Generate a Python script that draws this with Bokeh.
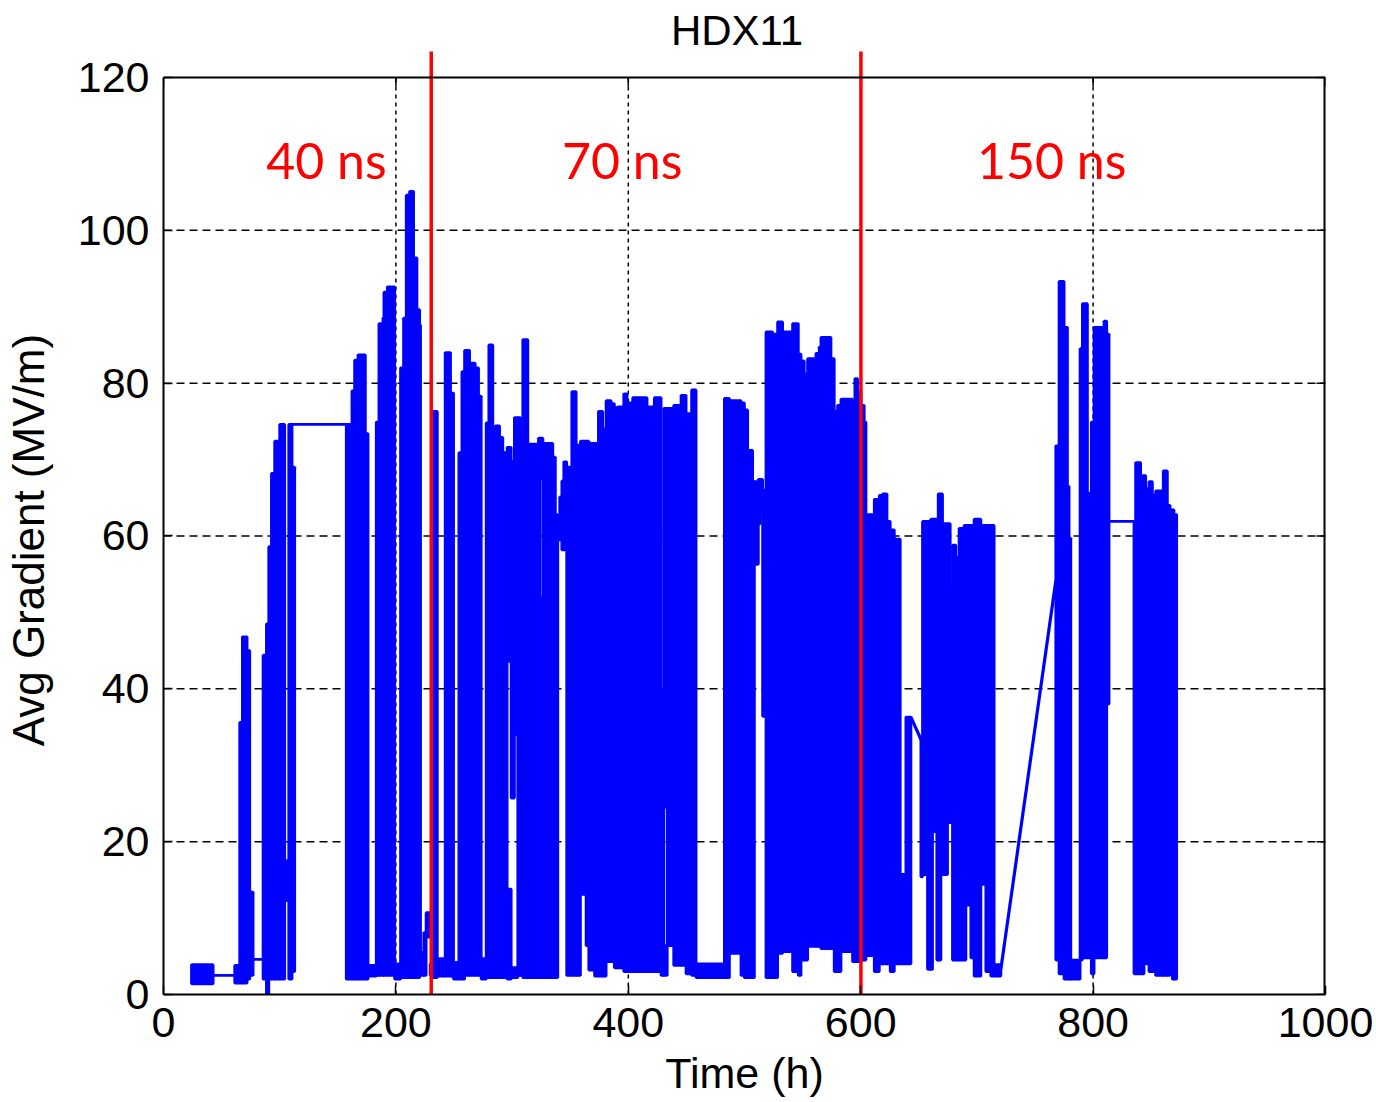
import math
from bokeh.plotting import figure
from bokeh.models import ColumnDataSource, FixedTicker, Label, Span
from bokeh.core.properties import value
from bokeh.embed import file_html
from bokeh.resources import INLINE

# ---- data: (t_start h, t_end h, low MV/m, high MV/m) ----
bursts_40ns = [
    (24.1, 42.7, 1.4, 3.9), (42.7, 61.3, 2.5, 2.5), (61.3, 65.6, 1.5, 3.8),
    (65.6, 67.9, 1.5, 35.6), (67.9, 71.9, 1.5, 46.8), (71.9, 74.2, 2.0, 45.0),
    (74.2, 77.1, 2.5, 13.4), (77.1, 85.7, 4.6, 4.6), (85.7, 88.6, 2.0, 44.4),
    (88.6, 90.6, 0.0, 48.5), (90.6, 92.9, 2.0, 58.6), (92.9, 95.7, 2.0, 68.2),
    (95.7, 100.0, 2.0, 72.4), (100.0, 104.3, 2.0, 74.6), (104.3, 107.8, 12.3, 17.5),
    (107.8, 110.6, 2.0, 74.6), (110.6, 112.9, 3.0, 69.0), (110.6, 157.3, 74.6, 74.6),
    (157.3, 162.2, 2.0, 74.6), (162.2, 164.5, 2.0, 79.0), (164.5, 167.4, 2.0, 83.0),
    (167.4, 173.7, 2.0, 83.7), (173.7, 176.0, 2.0, 73.4), (176.0, 183.1, 2.4, 3.8),
    (183.1, 185.4, 2.5, 74.9), (185.4, 188.9, 2.5, 87.8), (188.9, 189.7, 2.5, 88.5),
    (189.7, 192.6, 2.5, 91.9), (192.6, 198.9, 2.5, 92.6), (198.9, 204.0, 2.0, 4.0),
    (204.0, 206.6, 2.2, 82.0), (206.6, 208.9, 2.2, 88.5), (208.9, 211.8, 2.2, 104.6),
    (211.8, 215.2, 2.2, 105.1), (215.2, 218.1, 2.2, 96.4), (218.1, 220.4, 2.2, 89.6),
    (220.4, 221.2, 3.0, 87.6), (221.2, 224.0, 2.5, 5.5), (224.0, 226.0, 2.5, 8.1),
    (226.0, 229.5, 7.5, 10.7),
]

bursts_70ns = [
    (229.5, 231.8, 2.5, 4.0), (231.8, 235.6, 2.2, 76.3), (235.6, 242.4, 2.4, 4.7),
    (242.4, 247.0, 2.4, 84.0), (247.0, 249.6, 2.4, 78.7), (249.6, 254.2, 2.0, 4.2),
    (254.2, 256.8, 2.0, 70.9), (256.8, 259.1, 2.0, 81.5), (259.1, 263.4, 2.5, 84.3),
    (263.4, 268.2, 2.5, 82.6), (268.2, 271.1, 2.5, 82.0), (271.1, 273.4, 2.5, 78.3),
    (273.4, 277.7, 2.0, 4.7), (277.7, 280.0, 2.2, 74.8), (280.0, 283.4, 2.2, 85.0),
    (283.4, 285.4, 2.2, 73.5), (285.4, 289.2, 2.2, 74.4), (289.2, 292.0, 2.2, 72.9),
    (292.0, 295.7, 2.2, 70.9), (295.7, 299.2, 43.6, 71.6), (295.7, 299.2, 2.0, 13.8),
    (299.2, 302.0, 25.7, 69.8), (299.2, 304.9, 2.2, 3.5), (302.0, 304.9, 34.0, 75.5),
    (304.9, 307.2, 2.5, 75.5), (307.2, 309.2, 2.5, 73.4), (309.2, 313.5, 2.2, 85.7),
    (313.5, 322.7, 2.2, 72.0), (322.7, 324.0, 2.2, 72.8), (324.0, 326.5, 2.2, 52.0),
    (324.0, 326.5, 67.5, 72.8), (326.5, 335.0, 2.2, 72.1), (335.0, 337.2, 2.2, 70.3),
    (337.2, 339.3, 2.2, 62.8), (339.3, 341.0, 59.5, 61.0), (341.0, 342.8, 59.5, 65.1),
    (342.8, 344.5, 58.2, 67.2), (344.5, 347.0, 58.2, 69.7), (347.0, 351.4, 2.5, 69.0),
    (351.4, 355.1, 2.5, 78.9), (355.1, 358.8, 2.5, 71.9), (358.8, 363.7, 13.1, 72.4),
    (363.7, 366.0, 6.4, 72.4), (366.0, 371.0, 3.2, 72.1), (371.0, 374.3, 2.4, 72.1),
    (374.3, 378.0, 2.4, 76.3), (378.0, 379.5, 2.4, 31.5), (379.5, 380.9, 2.4, 74.0),
    (380.9, 385.2, 4.3, 77.7), (385.2, 388.0, 4.3, 77.3), (388.0, 390.9, 3.5, 76.8),
    (390.9, 396.1, 3.5, 76.9), (396.1, 398.9, 3.0, 78.6), (398.9, 403.8, 3.0, 77.4),
    (403.8, 416.1, 3.0, 78.1), (416.1, 422.4, 3.0, 76.9), (422.4, 428.2, 3.0, 78.1),
    (428.2, 430.5, 2.5, 39.8), (430.5, 433.5, 24.5, 76.7), (430.5, 433.5, 2.5, 6.4),
    (433.5, 439.1, 6.4, 76.7), (439.1, 445.4, 3.8, 77.1), (445.4, 449.7, 3.8, 78.4),
    (449.7, 454.5, 2.7, 76.0), (454.5, 458.3, 2.5, 79.1), (458.3, 482.7, 2.2, 4.0),
    (482.7, 487.0, 2.2, 78.0), (487.0, 497.0, 5.4, 77.7), (497.0, 499.9, 2.5, 77.4),
    (499.9, 502.7, 2.2, 76.5), (502.7, 507.0, 2.2, 71.2), (507.0, 508.5, 2.2, 67.1),
    (508.5, 511.9, 56.3, 67.1), (511.9, 513.6, 61.6, 67.4), (513.6, 515.6, 63.3, 67.4),
    (515.6, 518.5, 36.4, 66.0), (518.5, 524.2, 2.2, 86.7), (524.2, 528.5, 2.2, 86.4),
    (528.5, 532.8, 5.4, 88.0), (532.8, 541.4, 5.6, 86.7), (541.4, 546.3, 3.0, 87.8),
    (546.3, 548.6, 2.5, 83.8), (548.6, 551.4, 4.5, 82.9), (551.4, 554.3, 4.5, 81.2),
    (554.3, 561.5, 6.3, 83.2), (561.5, 564.3, 6.3, 83.9), (564.3, 565.8, 6.3, 84.7),
    (565.8, 574.4, 6.0, 86.0), (574.4, 577.2, 6.0, 83.2), (577.2, 580.1, 3.0, 76.3),
    (580.1, 583.0, 3.0, 77.1), (583.0, 593.0, 5.6, 77.9), (593.0, 595.0, 4.3, 77.4),
    (595.0, 597.3, 4.3, 80.6), (597.3, 600.2, 4.3, 79.0),
]

bursts_150ns = [
    (600.2, 603.0, 4.5, 77.1), (603.0, 604.5, 4.5, 74.9), (604.5, 611.7, 5.1, 62.8),
    (611.7, 616.0, 3.0, 64.8), (616.0, 618.8, 4.0, 65.3), (618.8, 622.6, 4.0, 65.5),
    (622.6, 625.4, 4.0, 61.9), (625.4, 628.9, 3.0, 60.8), (628.9, 634.0, 4.0, 59.6),
    (634.0, 638.9, 4.0, 15.7), (638.9, 643.2, 4.0, 36.3), (651.8, 653.2, 15.4, 33.4),
    (653.2, 657.5, 15.7, 61.9), (657.5, 660.4, 3.3, 61.9), (660.4, 661.8, 3.3, 62.2),
    (661.8, 665.5, 21.3, 62.2), (665.5, 666.7, 4.5, 62.2), (666.7, 669.0, 4.5, 65.5),
    (669.0, 670.4, 15.7, 65.5), (670.4, 674.7, 15.7, 61.6), (674.7, 677.0, 22.5, 61.6),
    (677.0, 679.0, 22.5, 53.2), (679.0, 681.9, 4.5, 58.8), (681.9, 684.7, 4.5, 57.2),
    (684.7, 689.0, 4.5, 61.0), (689.0, 690.5, 4.5, 61.4), (690.5, 694.8, 11.7, 61.4),
    (694.8, 697.6, 4.8, 61.4), (697.6, 703.4, 2.4, 62.2), (703.4, 707.7, 14.4, 61.4),
    (707.7, 712.0, 3.0, 61.4), (712.0, 714.8, 2.4, 61.4), (714.8, 720.6, 2.4, 3.9),
    (767.9, 770.7, 4.5, 71.8), (770.7, 775.0, 2.7, 93.3), (775.0, 777.9, 2.0, 87.3),
    (777.9, 779.3, 2.0, 66.5), (779.3, 780.8, 2.0, 59.7), (780.8, 788.8, 2.0, 4.5),
    (788.8, 790.8, 4.5, 84.5), (790.8, 795.1, 4.8, 90.4), (795.1, 798.5, 4.8, 65.6),
    (798.5, 800.8, 2.7, 74.9), (800.8, 809.4, 4.8, 87.3), (809.4, 811.7, 4.8, 88.1),
    (811.7, 813.7, 38.0, 86.4), (813.7, 835.2, 61.9, 61.9), (835.2, 836.6, 2.7, 61.9),
    (836.6, 840.9, 2.7, 69.6), (840.9, 843.8, 2.7, 67.9), (843.8, 845.2, 18.5, 67.9),
    (845.2, 848.1, 4.0, 66.2), (848.1, 851.0, 3.0, 67.1), (851.0, 853.8, 3.0, 65.3),
    (853.8, 860.4, 2.5, 65.9), (860.4, 863.9, 2.5, 68.5), (863.9, 866.2, 2.5, 64.0),
    (866.2, 868.2, 28.1, 63.4), (868.2, 869.6, 2.0, 63.4), (869.6, 871.9, 2.0, 62.8),
]

# sloped pieces of the trace: (t0, g0, t1, g1)
ramps = [(643.2, 36.3, 651.8, 33.4), (720.6, 3.3, 767.9, 54.1)]

pulse_boundaries_h = [230.4, 600.2]
pulse_labels = ["40 ns", "70 ns", "150 ns"]
pulse_label_x = [140.2, 394.7, 764.4]

x_ticks = [0, 200, 400, 600, 800, 1000]
y_ticks = [0, 20, 40, 60, 80, 100, 120]

BLUE = "#0000FF"
RED = "#FF0000"
FONT = "Liberation Sans"
NBSP = "\u00a0"

rows = bursts_40ns + bursts_70ns + bursts_150ns
src = ColumnDataSource(dict(
    left=[r[0] for r in rows], right=[r[1] for r in rows],
    bottom=[r[2] for r in rows], top=[r[3] for r in rows],
))
ramp_src = ColumnDataSource(dict(
    x0=[r[0] for r in ramps], y0=[r[1] for r in ramps],
    x1=[r[2] for r in ramps], y1=[r[3] for r in ramps],
))

XMAX = x_ticks[-1]
YMAX = y_ticks[-1]

p = figure(width=1376, height=1102, x_range=(0, XMAX), y_range=(0, 128.5),
           output_backend="svg", toolbar_location=None,
           min_border_left=162, min_border_right=51, min_border_top=12, min_border_bottom=108)
p.outline_line_color = None
p.background_fill_color = "white"
p.border_fill_color = "white"
p.xgrid.visible = False
p.ygrid.visible = False

# grid (dashed) inside the 0..120 box
gx = x_ticks[1:-1]
gy = y_ticks[1:-1]
p.segment(x0=gx, y0=[0] * len(gx), x1=gx, y1=[YMAX] * len(gx),
          line_color="black", line_width=1.5, line_dash="4 4")
p.segment(x0=[0] * len(gy), y0=gy, x1=[XMAX] * len(gy), y1=gy,
          line_color="black", line_width=1.5, line_dash="8 5")

# data trace
p.quad(left="left", right="right", bottom="bottom", top="top", source=src,
       fill_color=BLUE, line_color=BLUE, line_width=2.8)
p.segment(x0="x0", y0="y0", x1="x1", y1="y1", source=ramp_src,
          line_color=BLUE, line_width=3.2)

# box: top and right edges + inward ticks
p.add_layout(Span(location=YMAX, dimension="width", line_color="black", line_width=2))
p.segment(x0=[XMAX], y0=[0], x1=[XMAX], y1=[YMAX], line_color="black", line_width=4)
p.ray(x=[XMAX] * len(y_ticks), y=y_ticks, length=9, length_units="screen",
      angle=math.pi, line_color="black", line_width=1.5)
p.ray(x=x_ticks, y=[YMAX] * len(x_ticks), length=9, length_units="screen",
      angle=-math.pi / 2, line_color="black", line_width=1.5)

# red pulse-length boundaries
p.segment(x0=pulse_boundaries_h, y0=[0] * 2, x1=pulse_boundaries_h, y1=[123.4] * 2,
          line_color=RED, line_width=3.5)
p.text(x=pulse_label_x, y=[109.2] * 3, text=pulse_labels, text_color=RED,
       text_font=value("Lato"), text_font_size="50px",
       text_align="center", text_baseline="middle")

p.add_layout(Label(x=493.6, y=126.1, text="HDX11", text_font=FONT, text_font_size="42px",
                   text_align="center", text_baseline="middle", text_color="black"))

# axes
xa = p.xaxis[0]
xa.ticker = FixedTicker(ticks=x_ticks)
xa.axis_label = "Time (h)"
ya = p.yaxis[0]
ya.ticker = FixedTicker(ticks=y_ticks)
ya.bounds = (0, YMAX)
# trailing no-break spaces keep the title centred on the 0-120 box, not the taller frame
ya.axis_label = "Avg Gradient (MV/m)" + NBSP * 6
for ax in (xa, ya):
    ax.axis_line_color = "black"
    ax.axis_line_width = 2
    ax.major_tick_in = 9
    ax.major_tick_out = 0
    ax.minor_tick_in = 0
    ax.minor_tick_out = 0
    ax.major_tick_line_width = 1.5
    ax.major_label_text_font = FONT
    ax.major_label_text_font_size = "43px"
    ax.major_label_text_color = "black"
    ax.axis_label_text_font = FONT
    ax.axis_label_text_font_style = "normal"
    ax.axis_label_text_color = "black"
xa.axis_label_text_font_size = "43px"
ya.axis_label_text_font_size = "44px"
xa.major_label_standoff = 13
xa.axis_label_standoff = 9
ya.major_label_standoff = 14
ya.axis_label_standoff = 22

open("out.html", "w").write(file_html(p, INLINE))
